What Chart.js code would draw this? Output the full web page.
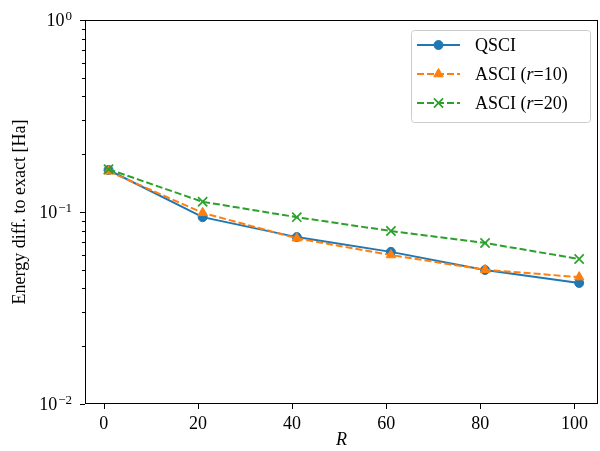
<!DOCTYPE html>
<html>
<head>
<meta charset="utf-8">
<script src="https://cdn.jsdelivr.net/npm/chart.js@4.4.1/dist/chart.umd.min.js"></script>
<style>
  html, body { margin: 0; padding: 0; background: #fff; }
  #wrap { width: 600px; height: 451px; }
</style>
</head>
<body>
<div id="wrap"><canvas id="chart" width="600" height="451"></canvas></div>
<script>
// --- DATA ---
const rValues = [1, 21, 41, 61, 81, 101];
const qsci = [0.1655, 0.094, 0.074, 0.062, 0.0499, 0.0427];
const asci10 = [0.163, 0.099, 0.073, 0.0597, 0.050, 0.0458];
const asci20 = [0.167, 0.113, 0.094, 0.0796, 0.069, 0.0569];
const xTicks = [0, 20, 40, 60, 80, 100];
const yMajor = [0.01, 0.1, 1];
const yExponents = ['−2', '−1', '0'];

const FONT = "'Liberation Serif', 'DejaVu Serif', serif";
const toPts = ys => rValues.map((x, i) => ({ x, y: ys[i] }));

// minor log ticks 2..9 per decade
const yMinor = [];
[0.01, 0.1].forEach(d => { for (let k = 2; k <= 9; k++) yMinor.push(+(d * k).toPrecision(3)); });

// frame, tick marks, 10^n labels and legend like matplotlib
const mplDecor = {
    id: 'mplDecor',
    afterDraw(chart) {
        const { ctx, chartArea: a, scales } = chart;
        ctx.save();
        ctx.strokeStyle = '#000';
        ctx.lineWidth = 1;
        ctx.strokeRect(a.left + 0.5, a.top + 0.5, a.right - a.left - 1, a.bottom - a.top - 1);

        ctx.beginPath();
        xTicks.forEach(v => {
            const px = Math.round(scales.x.getPixelForValue(v)) + 0.5;
            ctx.moveTo(px, a.bottom); ctx.lineTo(px, a.bottom + 5);
        });
        yMajor.forEach(v => {
            const py = Math.round(scales.y.getPixelForValue(v)) + 0.5;
            ctx.moveTo(a.left, py); ctx.lineTo(a.left - 5, py);
        });
        yMinor.forEach(v => {
            const py = Math.round(scales.y.getPixelForValue(v)) + 0.5;
            ctx.moveTo(a.left, py); ctx.lineTo(a.left - 3, py);
        });
        ctx.stroke();

        // y labels as 10 with superscript exponent
        ctx.fillStyle = '#000';
        ctx.textBaseline = 'alphabetic';
        yMajor.forEach((v, i) => {
            const py = scales.y.getPixelForValue(v);
            ctx.font = '13px ' + FONT;
            const ew = ctx.measureText(yExponents[i]).width;
            const right = a.left - 13;
            ctx.textAlign = 'left';
            ctx.fillText(yExponents[i], right - ew, py);
            ctx.font = '18px ' + FONT;
            ctx.textAlign = 'right';
            ctx.fillText('10', right - ew - 1, py + 6);
        });
        ctx.textAlign = 'left';

        // legend
        const bw = 179, bh = 92;
        const bx = a.right - 8 - bw, by = a.top + 10;
        ctx.fillStyle = 'rgba(255,255,255,0.8)';
        ctx.strokeStyle = '#cccccc';
        ctx.beginPath();
        ctx.roundRect(bx + 0.5, by + 0.5, bw, bh, 3);
        ctx.fill(); ctx.stroke();

        const names = [['QSCI'], ['ASCI (', 'r', '=10)'], ['ASCI (', 'r', '=20)']];
        chart.data.datasets.forEach((ds, i) => {
            const y = by + 15 + i * 29;
            const x0 = bx + 6, x1 = bx + 49;
            ctx.save();
            ctx.strokeStyle = ds.borderColor;
            ctx.lineWidth = ds.borderWidth;
            ctx.setLineDash(ds.borderDash || []);
            ctx.beginPath(); ctx.moveTo(x0, y); ctx.lineTo(x1, y); ctx.stroke();
            ctx.restore();
            ctx.save();
            ctx.fillStyle = ds.pointBackgroundColor;
            ctx.strokeStyle = ds.pointBorderColor;
            ctx.lineWidth = ds.pointBorderWidth;
            Chart.helpers.drawPoint(ctx, { pointStyle: ds.pointStyle, radius: ds.pointRadius, rotation: 0, borderWidth: ds.pointBorderWidth }, (x0 + x1) / 2, y);
            ctx.restore();

            let tx = bx + 64;
            ctx.fillStyle = '#000';
            ctx.textBaseline = 'middle';
            names[i].forEach((part, j) => {
                ctx.font = (j === 1 ? 'italic ' : '') + '18px ' + FONT;
                ctx.fillText(part, tx, y + 1);
                tx += ctx.measureText(part).width;
            });
        });
        ctx.restore();
    }
};

function series(label, data, color, style, radius, dash, order) {
    return {
        label, data: toPts(data), order,
        borderColor: color, backgroundColor: color,
        borderWidth: 2, borderDash: dash,
        pointStyle: style, pointRadius: radius, pointHoverRadius: radius,
        pointBackgroundColor: color, pointBorderColor: color,
        pointBorderWidth: style === 'crossRot' ? 1.7 : 1,
        tension: 0, fill: false
    };
}

const ctx = document.getElementById('chart').getContext('2d');
new Chart(ctx, {
    type: 'line',
    data: {
        datasets: [
            series('QSCI', qsci, '#1f77b4', 'circle', 4.5, [], 3),
            series('ASCI (r=10)', asci10, '#ff7f0e', 'triangle', 5.5, [7, 3], 2),
            series('ASCI (r=20)', asci20, '#2ca02c', 'crossRot', 6.5, [7, 3], 1)
        ]
    },
    options: {
        responsive: false,
        animation: false,
        layout: { autoPadding: false, padding: { top: 20, right: 2, left: 0, bottom: 0 } },
        plugins: { legend: { display: false }, tooltip: { enabled: false } },
        scales: {
            x: {
                type: 'linear', min: -4, max: 105,
                afterBuildTicks: s => { s.ticks = xTicks.map(v => ({ value: v })); },
                grid: { display: false, drawTicks: false },
                border: { display: false },
                ticks: { color: '#000', padding: 9, font: { family: FONT, size: 18 }, maxRotation: 0 },
                title: { display: true, text: 'R', color: '#000', padding: { top: 11, bottom: 0 },
                         font: { family: FONT, size: 18, style: 'italic' } },
                afterFit: s => { s.height = 47; s.paddingLeft = 0; s.paddingRight = 0; }
            },
            y: {
                type: 'logarithmic', min: 0.01, max: 1,
                afterBuildTicks: s => { s.ticks = yMajor.map(v => ({ value: v })); },
                grid: { display: false, drawTicks: false },
                border: { display: false },
                ticks: { display: false },
                title: { display: true, text: 'Energy diff. to exact [Ha]', color: '#000',
                         padding: { top: 9, bottom: 4 }, font: { family: FONT, size: 18 } },
                afterFit: s => { s.width = 85; s.paddingTop = 0; s.paddingBottom = 0; }
            }
        }
    },
    plugins: [mplDecor]
});
</script>
</body>
</html>
